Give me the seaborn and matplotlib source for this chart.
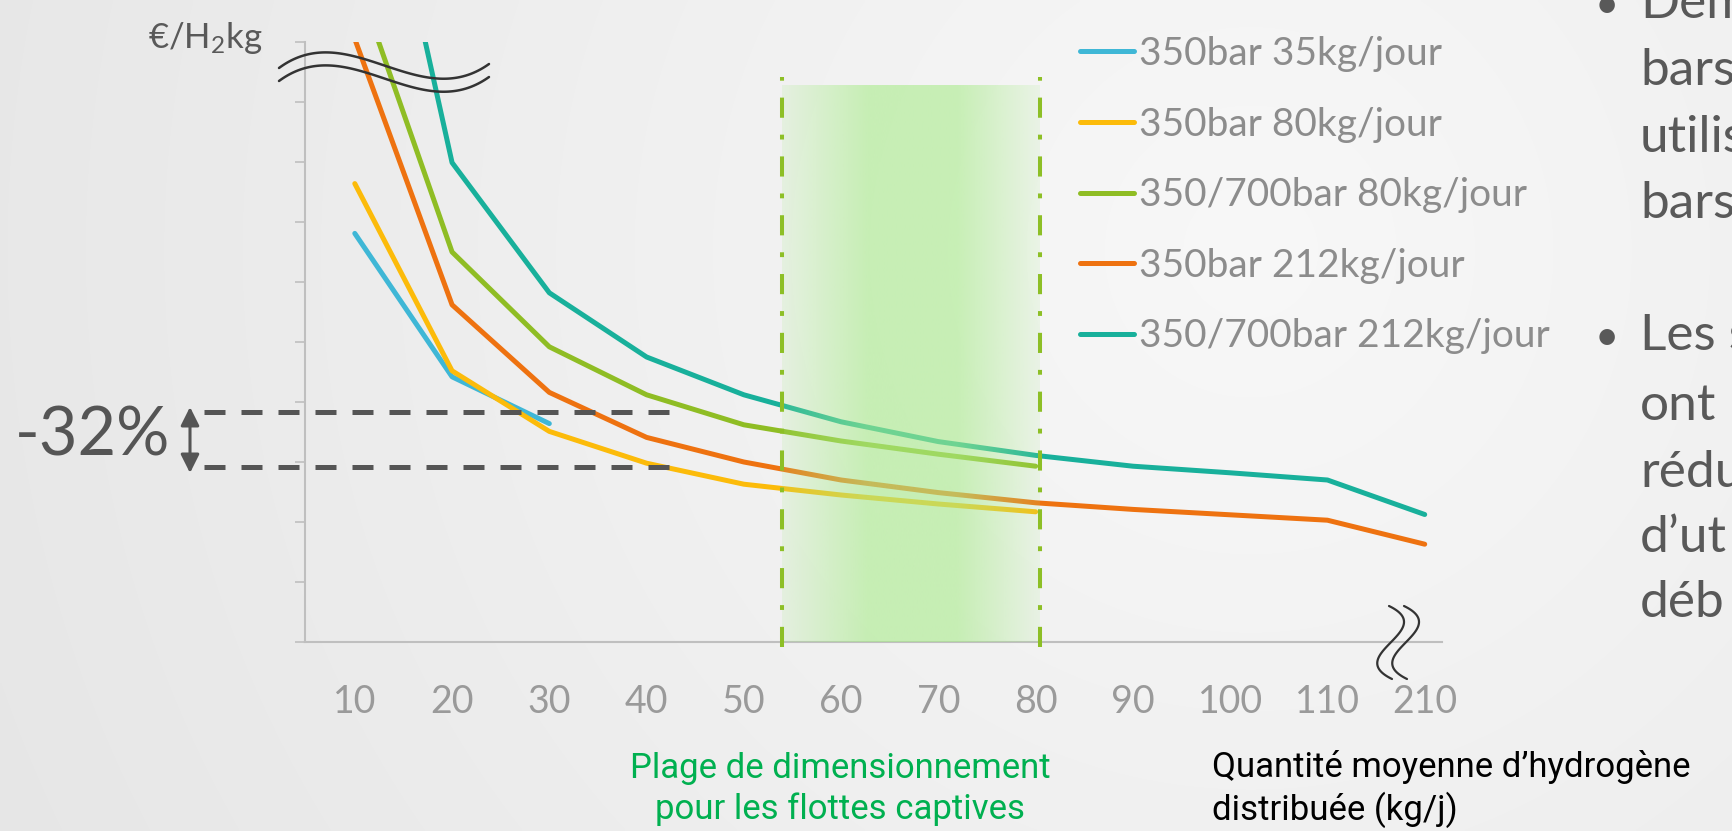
import numpy as np
import pandas as pd
import matplotlib
matplotlib.use("Agg")
import matplotlib.pyplot as plt
import seaborn as sns
from matplotlib.lines import Line2D

# ---------------- data ----------------
categories = ["10", "20", "30", "40", "50", "60", "70", "80", "90", "100", "110", "210"]
series_names = ["350bar 35kg/jour", "350bar 80kg/jour", "350/700bar 80kg/jour",
                "350bar 212kg/jour", "350/700bar 212kg/jour"]
v_350_35 = [6.81, 4.42, 3.64]
v_350_80 = [7.64, 4.52, 3.51, 2.98, 2.63, 2.45, 2.30, 2.17]
v_350700_80 = [11.14, 6.50, 4.92, 4.12, 3.62, 3.35, 3.13, 2.93]
v_350_212 = [10.05, 5.62, 4.16, 3.41, 3.00, 2.70, 2.49, 2.32, 2.21, 2.12, 2.03, 1.63]
v_350700_212 = [15.3, 7.99, 5.82, 4.75, 4.12, 3.67, 3.34, 3.11, 2.93, 2.82, 2.70, 2.125]
series_values = [v_350_35, v_350_80, v_350700_80, v_350_212, v_350700_212]
colors = ["#3fb7d6", "#fcbb0a", "#8fbd24", "#ee7210", "#18b09b"]

band_range = [4.39, 7.04]      # sizing range for captive fleets (x positions)
band_top = 9.28
gap_levels = [3.83, 2.92]      # -32 % reference levels
gap_label = "-32%"
y_label = "€/H$_2$kg"
band_text = "Plage de dimensionnement\npour les flottes captives"
x_title = "Quantité moyenne d’hydrogène\ndistribuée (kg/j)"
bullet1 = ["Dem", "bars", "utilis", "bars"]
bullet2 = ["Les s", "ont", "rédu", "d’ut", "déb"]

rows = []
for name, vals in zip(series_names, series_values):
    for i, v in enumerate(vals):
        rows.append({"pos": i, "value": v, "series": name})
df = pd.DataFrame(rows)

# ---------------- figure ----------------
W, H = 1733, 831
sns.set_theme(style="white")
plt.rcParams["font.family"] = ["Lato", "DejaVu Sans"]
plt.rcParams["mathtext.default"] = "regular"
WEIGHT = "normal"

fig = plt.figure(figsize=(W / 100, H / 100), dpi=100)


def fx(x):
    return x / W


def fy(y):
    return 1 - y / H


# background radial gradient
bg = fig.add_axes([0, 0, 1, 1], zorder=-10)
bg.axis("off")
yy, xx = np.mgrid[0:H:3, 0:W:3]
d = np.sqrt((xx - 1250) ** 2 + (yy - 250) ** 2) / 1400
val = np.clip(0.972 - 0.07 * d, 0, 1)
img = np.dstack([val, val, val])
bg.imshow(img, extent=[0, W, H, 0], aspect="auto", interpolation="bilinear")
bg.set_xlim(0, W)
bg.set_ylim(H, 0)

# main axes
x0p, x1p, ytop, ybot = 305, 1442, 42, 642
ax = fig.add_axes([fx(x0p), fy(ybot), fx(x1p - x0p), (ybot - ytop) / H])
ax.patch.set_alpha(0)
step = (1424.7 - 354.8) / 11
ax.set_xlim(-(354.8 - x0p) / step, 11 + (x1p - 1424.7) / step)
ax.set_ylim(0, 10)

sns.lineplot(data=df, x="pos", y="value", hue="series", hue_order=series_names,
             palette=colors, linewidth=3.6, sort=False, estimator=None, ax=ax,
             solid_capstyle="round", solid_joinstyle="round", zorder=2)

# sizing band (gradient overlay)
n = 200
t = np.linspace(0, 1, n)
alpha = np.interp(t, [0, 0.33, 0.68, 1.0], [0.17, 0.6, 0.6, 0.14])
band = np.zeros((1, n, 4))
band[..., 0] = 170 / 255
band[..., 1] = 236 / 255
band[..., 2] = 140 / 255
band[..., 3] = alpha
ax.imshow(band, extent=[band_range[0], band_range[1], 0, band_top], aspect="auto",
          zorder=3, interpolation="bilinear")
for bx in band_range:
    ax.plot([bx, bx], [-0.08, 9.42], color="#8dbf26", lw=2.9, clip_on=False, zorder=4,
            dashes=(5, 4.2, 1.2, 4.2), solid_capstyle="butt", dash_capstyle="butt")

# axis styling
ax.set_xlim(-(354.8 - x0p) / step, 11 + (x1p - 1424.7) / step)
ax.set_ylim(0, 10)
for s in ["top", "right"]:
    ax.spines[s].set_visible(False)
for s in ["left", "bottom"]:
    ax.spines[s].set_color("#bfbfbf")
    ax.spines[s].set_linewidth(1.5)
ax.set_xticks(range(len(categories)), categories)
ax.set_yticks(range(11), [""] * 11)
ax.tick_params(axis="x", length=0, pad=30, labelsize=27, labelcolor="#9a9a9a")
ax.tick_params(axis="y", length=7, width=1.2, color="#bfbfbf", left=True)
for lab in ax.get_xticklabels():
    lab.set_fontweight(WEIGHT)
ax.set_xlabel("")
ax.set_ylabel("")

# legend
leg = ax.get_legend()
handles = leg.legend_handles
labels = [t.get_text() for t in leg.get_texts()]
leg.remove()
for h in handles:
    h.set_linewidth(3.6)
    h.set_solid_capstyle("round")
fig.legend(handles, labels, loc="upper left", bbox_to_anchor=(fx(1080), fy(36)),
           frameon=False, prop={"size": 28, "weight": WEIGHT}, handlelength=1.39,
           handletextpad=0.12, labelspacing=0.89, borderpad=0, borderaxespad=0,
           labelcolor="#8c8c8c")

# -32% reference lines
gx0, gx1 = (204 - 354.8) / step, (675 - 354.8) / step
for lvl in gap_levels:
    ax.plot([gx0, gx1], [lvl, lvl], color="#555555", lw=3.6, clip_on=False, zorder=5,
            dashes=(4.2, 3.2), dash_capstyle="butt")
ax.annotate("", xy=(190, H - 473), xytext=(190, H - 407), xycoords="figure pixels",
            textcoords="figure pixels", annotation_clip=False,
            arrowprops=dict(arrowstyle="<|-|>,head_width=0.4,head_length=0.8",
                            color="#555555", lw=2.2, mutation_scale=14,
                            shrinkA=0, shrinkB=0))
fig.text(fx(15), fy(437), gap_label, fontsize=48, color="#555555", ha="left",
         va="center", fontweight=WEIGHT)

# y label
fig.text(fx(263), fy(48), y_label, fontsize=25, color="#595959", ha="right",
         va="baseline", fontweight=WEIGHT)

# axis break marks (top, across y axis)
px = np.array([279, 353, 420, 489])
py = np.array([68, 56, 76, 64])
coef = np.polyfit(px, py, 3)
xs = np.linspace(279, 489, 100)
for off in (0, 13):
    ys = np.polyval(coef, xs) + off
    fig.add_artist(Line2D(fx(xs), fy(ys), color="#333333", lw=1.8, zorder=6))

# axis break marks (bottom right)
qy = np.array([606, 632, 655, 679])
qx = np.array([1389, 1400, 1380, 1392])
coef2 = np.polyfit(qy, qx, 3)
ys2 = np.linspace(606, 679, 100)
for off in (0, 15):
    xs2 = np.polyval(coef2, ys2) + off
    fig.add_artist(Line2D(fx(xs2), fy(ys2), color="#333333", lw=1.6, zorder=6))

# bottom texts
fig.text(fx(840), fy(789), band_text, fontsize=25, color="#00b050", ha="center",
         va="center", family=["Roboto", "DejaVu Sans"], linespacing=1.3)
fig.text(fx(1212), fy(789), x_title, fontsize=25, color="#000000", ha="left",
         va="center", family=["Roboto", "DejaVu Sans"], linespacing=1.3)

# right-hand slide text (cut at the edge)
base1 = [18, 85, 152, 218]
base2 = [350, 420, 487, 552, 617]
for txt, b in zip(bullet1, base1):
    fig.text(fx(1640), fy(b), txt, fontsize=37, color="#595959", ha="left",
             va="baseline", fontweight=WEIGHT)
for txt, b in zip(bullet2, base2):
    fig.text(fx(1640), fy(b), txt, fontsize=37, color="#595959", ha="left",
             va="baseline", fontweight=WEIGHT)
fig.text(fx(1607), fy(base1[0]), "•", fontsize=30, color="#595959", ha="center", va="baseline")
fig.text(fx(1607), fy(base2[0]), "•", fontsize=30, color="#595959", ha="center", va="baseline")

fig.savefig("out.png", dpi=100)
